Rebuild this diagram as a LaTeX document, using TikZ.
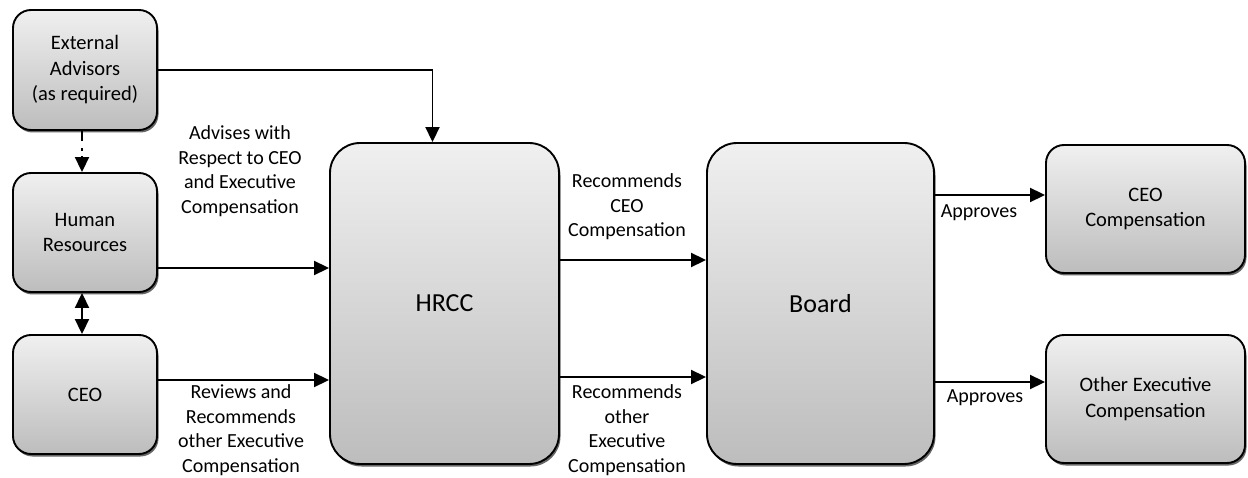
\documentclass[tikz,border=0pt]{standalone}
\usepackage{fontspec}
\setmainfont{Carlito}
\usetikzlibrary{positioning,arrows.meta,shadows}

\tikzset{
  box/.style={draw, line width=1.9pt, rounded corners=18pt, top color=gray!12, bottom color=gray!52,
    drop shadow={shadow xshift=1.5pt, shadow yshift=-2.5pt, fill=black!60, opacity=1},
    align=center, inner sep=0pt, font=\fontsize{20.5}{25.5}\selectfont},
  bigbox/.style={box, rounded corners=30pt, font=\fontsize{26}{30}\selectfont},
  arr/.style={-{Triangle[length=15pt,width=14pt]}, line width=1.9pt},
  lbl/.style={align=center, font=\fontsize{20}{24.5}\selectfont, inner sep=0pt}
}

\begin{document}
\begin{tikzpicture}[x=1pt, y=1pt]
        \useasboundingbox (0,0) rectangle (1248,477);

        % left column
        \node[box, minimum width=144pt, minimum height=120pt] (ea) at (85,407) {External\\Advisors\\(as required)};
        \node[box, minimum width=144pt, minimum height=119pt] (hr) at (85,244.5) {Human\\Resources};
        \node[box, minimum width=144pt, minimum height=119pt] (ceo) at (85,82.5) {CEO};

        % committee and board
        \node[bigbox, minimum width=229pt, minimum height=321pt] (hrcc) at (444.5,173.5) {HRCC};
        \node[bigbox, minimum width=227pt, minimum height=321pt] (board) at (820.5,173.5) {Board};

        % outcomes
        \node[box, minimum width=199pt, minimum height=128pt] (ceocomp) at (1145.5,268) {CEO\\Compensation};
        \node[box, minimum width=199pt, minimum height=128pt] (execcomp) at (1145.5,78) {Other Executive\\Compensation};

        % connectors
        \draw[arr] (ea.east) -| ([xshift=-12pt]hrcc.north);
        \draw[arr, dash pattern=on 10pt off 7pt on 3pt off 5pt] ([xshift=-3pt]ea.south) -- ([xshift=-3pt]hr.north);
        \draw[{Triangle[length=15pt,width=14pt]}-{Triangle[length=15pt,width=14pt]}, line width=1.9pt] ([xshift=-3pt]hr.south) -- ([xshift=-3pt]ceo.north);
        \draw[arr] (hr.east |- 0,209) -- (hrcc.west |- 0,209);
        \draw[arr] (ceo.east |- 0,97) -- (hrcc.west |- 0,97);
        \draw[arr] (hrcc.east |- 0,217) -- (board.west |- 0,217);
        \draw[arr] (hrcc.east |- 0,100) -- (board.west |- 0,100);
        \draw[arr] (board.east |- 0,282) -- (ceocomp.west |- 0,282);
        \draw[arr] (board.east |- 0,95) -- (execcomp.west |- 0,95);

        % labels
        \node[lbl] (advises) at (240,306) {Advises with\\Respect to CEO\\and Executive\\Compensation};
        \node[lbl] (reviews) at (241,47) {Reviews and\\Recommends\\other Executive\\Compensation};
        \node[lbl] (recceo) at (627,270) {Recommends\\CEO\\Compensation};
        \node[lbl] (recexec) at (627,47) {Recommends\\other\\Executive\\Compensation};
        \node[lbl] (appceo) at (979,264) {Approves};
        \node[lbl] (appexec) at (985,79) {Approves};

    \end{tikzpicture}
\end{document}
